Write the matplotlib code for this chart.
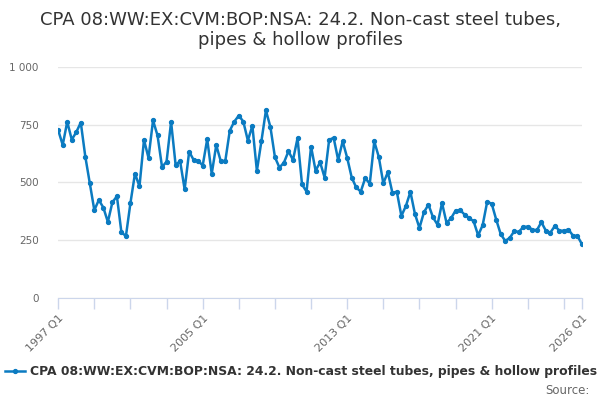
import matplotlib.pyplot as plt
import numpy as np

# quarterly values, 1997 Q1 .. 2026 Q1
values = [
    726, 662, 762, 685, 717, 759, 612, 496, 380, 424, 391, 329,
    414, 440, 284, 268, 411, 538, 483, 684, 606, 768, 703, 566,
    590, 762, 576, 592, 470, 633, 597, 594, 573, 687, 537, 661,
    592, 592, 724, 763, 789, 763, 681, 745, 550, 678, 811, 739,
    609, 564, 586, 635, 597, 691, 491, 460, 655, 551, 587, 521,
    684, 693, 597, 678, 606, 521, 478, 460, 519, 494, 677, 610,
    496, 544, 456, 459, 355, 398, 459, 364, 303, 371, 404, 349,
    317, 411, 325, 345, 378, 380, 361, 346, 332, 271, 315, 416,
    408, 339, 276, 247, 260, 289, 286, 307, 309, 296, 293, 328,
    291, 283, 312, 291, 291, 296, 270, 268, 232,
]
quarters = [f"{1997 + i // 4} Q{i % 4 + 1}" for i in range(len(values))]
label_idx = [0, 32, 64, 96, 116]
series_name = "CPA 08:WW:EX:CVM:BOP:NSA: 24.2. Non-cast steel tubes, pipes & hollow profiles"
title = "CPA 08:WW:EX:CVM:BOP:NSA: 24.2. Non-cast steel tubes,\npipes & hollow profiles"

color = "#0b7bc1"

fig = plt.figure(figsize=(6, 4), dpi=100)
ax = fig.add_axes([0.097, 0.255, 0.873, 0.578])

x = np.arange(len(values))
ax.plot(x, values, color=color, lw=1.8, marker="o", ms=2.8, label=series_name)

ax.set_xlim(0, len(values) - 1)
ax.set_ylim(0, 1000)
ax.set_yticks([0, 250, 500, 750, 1000])
ax.set_yticklabels(["0", "250", "500", "750", "1 000"], fontsize=7.5, color="#666666")
ax.grid(axis="y", color="#e6e6e6", lw=1)
ax.set_axisbelow(True)

ticks = list(range(0, len(values), 8)) + [len(values) - 1]
ax.set_xticks(ticks)
ax.set_xticklabels([quarters[i] if i in label_idx else "" for i in ticks],
                   rotation=45, ha="right", rotation_mode="anchor",
                   fontsize=8, color="#666666")
ax.tick_params(axis="x", length=8, color="#ccd6eb", width=1, pad=3)
ax.tick_params(axis="y", length=0, pad=14)

for s in ["top", "right", "left"]:
    ax.spines[s].set_visible(False)
ax.spines["bottom"].set_color("#ccd6eb")

fig.text(0.5, 0.925, title, ha="center", va="center", fontsize=13,
         color="#333333", linespacing=1.2)

fig.legend(loc="center", bbox_to_anchor=(0.502, 0.07), frameon=False,
           prop={"size": 8.9, "weight": "bold"}, labelcolor="#333333",
           handlelength=1.6, handletextpad=0.4, borderaxespad=0)
fig.text(0.982, 0.025, "Source:", ha="right", va="center", fontsize=8.5, color="#666666")

fig.savefig("out.png", dpi=100)
